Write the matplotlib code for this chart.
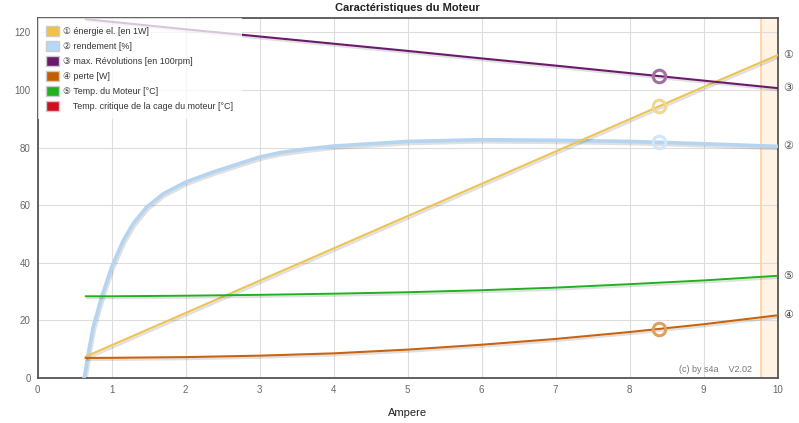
import matplotlib
matplotlib.use("Agg")
import matplotlib.pyplot as plt
import matplotlib.patheffects as pe
from matplotlib.patches import Patch

plt.rcParams['font.family'] = ['Liberation Sans', 'DejaVu Sans', 'Noto Sans CJK JP']

# current values (A) for most curves
current = [0.65, 1, 2, 3, 4, 5, 6, 7, 8, 9, 10]
energie = [7.5, 11.4, 22.6, 33.8, 45.0, 56.2, 67.4, 78.6, 89.8, 101.0, 112.0]
revolutions = [124.5, 123.6, 121.0, 118.5, 116.0, 113.5, 110.9, 108.4, 105.8, 103.2, 100.6]
perte = [7.0, 7.05, 7.3, 7.8, 8.6, 9.9, 11.6, 13.6, 16.0, 18.7, 21.8]
temp_moteur = [28.4, 28.4, 28.6, 28.9, 29.3, 29.8, 30.5, 31.4, 32.6, 33.9, 35.5]

# efficiency curve read with more points
current_eff = [0.626, 0.64, 0.684, 0.75, 0.865, 1.0, 1.157, 1.29, 1.47, 1.7, 2.0, 2.37,
               3.0, 3.27, 3.6, 4, 5, 6, 7, 8, 9, 10]
rendement = [0, 1.6, 8.6, 17.8, 28.2, 38.6, 47.8, 53.6, 59.3, 64.0, 68.0, 71.5,
             76.7, 78.2, 79.4, 80.5, 82.1, 82.7, 82.5, 82.1, 81.3, 80.4]

# marker values at 8.4 A
marker_x = 8.4
marker_energie = 94.4
marker_rendement = 81.9
marker_revolutions = 104.7
marker_perte = 17.0

critical_start = 9.77

labels = ["\u2460 énergie el. [en 1W]", "\u2461 rendement [%]",
          "\u2462 max. Révolutions [en 100rpm]", "\u2463 perte [W]",
          "\u2464 Temp. du Moteur [°C]", "    Temp. critique de la cage du moteur [°C]"]
colors = ["#f0c048", "#b4d8f8", "#6a1a6a", "#c06000", "#20b020", "#d01020"]

fig = plt.figure(figsize=(7.99, 4.23), dpi=100)
ax = fig.add_axes([0.0472, 0.106, 0.926, 0.852])

shadow = [pe.SimpleLineShadow(offset=(1, -1.5), alpha=0.12), pe.Normal()]

ax.axvspan(critical_start, 10, color="#fff3e6", zorder=0)
ax.axvline(critical_start, color="#ffd0a0", lw=1.2, zorder=1)

ax.plot(current_eff, rendement, color="#b4d4f0", lw=2.6, path_effects=shadow, zorder=3,
        solid_joinstyle='round')
ax.plot(current, energie, color="#ecc458", lw=1.6, path_effects=shadow, zorder=4)
ax.plot(current, revolutions, color="#6a1a6a", lw=1.5, path_effects=shadow, zorder=4)
ax.plot(current, perte, color="#c86410", lw=1.5, path_effects=shadow, zorder=4)
ax.plot(current, temp_moteur, color="#20b020", lw=1.4, path_effects=shadow, zorder=4)

ax.plot(marker_x, marker_energie, 'o', ms=9, mfc='none', mew=2.2, mec="#f0d890", zorder=5)
ax.plot(marker_x, marker_rendement, 'o', ms=9, mfc='none', mew=2.2, mec="#d0e6fa", zorder=5)
ax.plot(marker_x, marker_revolutions, 'o', ms=9, mfc='none', mew=2.2, mec="#a070a0", zorder=5)
ax.plot(marker_x, marker_perte, 'o', ms=9, mfc='none', mew=2.2, mec="#dca060", zorder=5)

# end labels on the right
ends = [(energie[-1], "\u2460"), (revolutions[-1], "\u2462"), (rendement[-1], "\u2461"),
        (temp_moteur[-1], "\u2464"), (perte[-1], "\u2463")]
for y, t in ends:
    ax.text(10.08, y, t, fontsize=8, color="#444444", va='center', ha='left', clip_on=False)

ax.set_xlim(0, 10)
ax.set_ylim(0, 125)
ax.set_xticks(range(0, 11))
ax.set_yticks(range(0, 121, 20))
ax.tick_params(length=0, labelsize=7, colors="#666666", pad=5)
ax.grid(True, color="#dddddd", lw=0.8)
ax.set_axisbelow(True)
for s in ax.spines.values():
    s.set_color("#555555")
    s.set_linewidth(1.3)

ax.set_title("Caractéristiques du Moteur", fontsize=8, fontweight='bold', color="#222222", pad=5)
ax.set_xlabel("Ampere", fontsize=8, color="#222222", labelpad=9)

ax.text(0.965, 0.012, "(c) by s4a    V2.02", transform=ax.transAxes, fontsize=6.5,
        color="#777777", ha='right', va='bottom')

handles = [Patch(facecolor=c, edgecolor="#cccccc", lw=1) for c in colors]
leg = ax.legend(handles, labels, loc='upper left', bbox_to_anchor=(0.0, 1.0), fontsize=6.4,
                frameon=True, framealpha=0.75, edgecolor='none', fancybox=False,
                handlelength=1.5, handleheight=1.35, labelspacing=0.58, handletextpad=0.5,
                borderpad=0.9, borderaxespad=0.0)
for t in leg.get_texts():
    t.set_color("#333333")
leg.set_zorder(6)

plt.savefig("out.png", dpi=100)
